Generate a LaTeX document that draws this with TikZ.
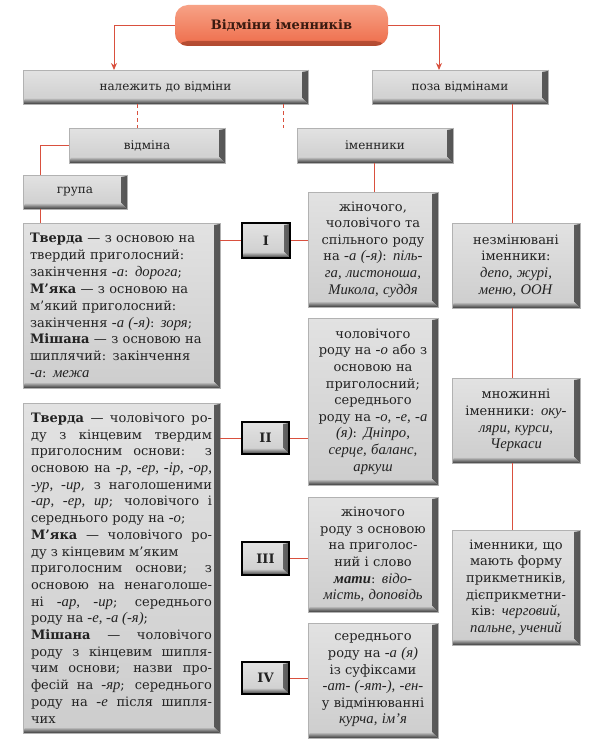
\documentclass[tikz,border=0pt]{standalone}
\usepackage{fontspec}
\setmainfont{DejaVu Serif}[ItalicFont={Liberation Serif Italic}, BoldItalicFont={Liberation Serif Bold Italic}, ItalicFeatures={Scale=1.13}, BoldItalicFeatures={Scale=1.13}]
\usetikzlibrary{arrows.meta}
\definecolor{boxtop}{HTML}{E2E2E2}
\definecolor{boxbot}{HTML}{CDCDCD}
\definecolor{boxdark}{HTML}{3A3A3A}
\definecolor{boxside}{HTML}{555555}
\definecolor{txt}{HTML}{222222}
\definecolor{lin}{HTML}{D9503E}
\definecolor{ttop}{HTML}{F7A286}
\definecolor{tbot}{HTML}{EE6C4A}
\definecolor{tdark}{HTML}{B04A30}
\definecolor{ttxt}{HTML}{3A1A10}
\tikzset{
  gbox/.style={top color=boxtop, bottom color=boxbot, draw=gray!60, line width=0.4pt,
    text=txt, align=center, inner xsep=6pt, inner ysep=3pt,
    font=\fontsize{13}{16.6}\selectfont,
    path picture={
      \shade[left color=boxbot, right color=boxside]
        ([xshift=-6pt,yshift=-2pt]path picture bounding box.north east) -- ([yshift=-1pt]path picture bounding box.north east)
        -- (path picture bounding box.south east) -- ([xshift=-6pt,yshift=6pt]path picture bounding box.south east) -- cycle;
      \shade[top color=boxbot, bottom color=boxdark]
        ([xshift=2pt,yshift=6pt]path picture bounding box.south west) -- ([xshift=-6pt,yshift=6pt]path picture bounding box.south east)
        -- (path picture bounding box.south east) -- (path picture bounding box.south west) -- cycle;
      \draw[white, line width=1pt] (path picture bounding box.south west) -- (path picture bounding box.north west) -- (path picture bounding box.north east);
    }},
  hbox/.style={font=\fontsize{12}{15}\selectfont},
  rbox/.style={gbox, draw=black, line width=2.4pt, font=\fontsize{13}{15}\bfseries\selectfont},
  tbox/.style={top color=ttop, bottom color=tbot, rounded corners=13pt, draw=none,
    text=ttxt, font=\fontsize{13}{15}\bfseries\selectfont,
    path picture={
      \shade[top color=tbot, bottom color=tdark]
        ([yshift=5pt]path picture bounding box.south west) rectangle (path picture bounding box.south east);
    }},
  conn/.style={draw=lin, line width=1pt},
  arr/.style={conn, -{Stealth[length=7pt,width=6pt]}},
  dsh/.style={conn, dash pattern=on 4pt off 3pt}
}
\newcommand{\bx}[8][]{%
  \pgfmathsetmacro\bxw{#5-#3}\pgfmathsetmacro\bxh{#6-#4}%
  \pgfmathsetmacro\bxcx{(#3+#5)/2}\pgfmathsetmacro\bxcy{(#4+#6)/2}%
  \pgfmathsetmacro\bxtw{#5-#3-2*#7}%
  \node[gbox,#1,inner xsep=#7 pt,minimum width=\bxw pt,minimum height=\bxh pt,text width=\bxtw pt] (#2) at (\bxcx,\bxcy) {#8};}
\begin{document}
\begin{tikzpicture}[x=1pt,y=-1pt]
\useasboundingbox (0,0) rectangle (602,751);
\fill[white] (0,0) rectangle (602,751);

\node[tbox, minimum width=213pt, minimum height=41pt] (title) at (281.5,25.5) {Відміни іменників};

\bx[hbox]{nal}{23}{70}{308}{104}{6}{належить до відміни}
\bx[hbox]{poza}{372}{70}{548}{104}{6}{поза відмінами}
\bx[hbox]{vidm}{69}{128}{225}{163}{6}{відміна}
\bx[hbox]{imen}{297}{128}{453}{163}{6}{іменники}
\bx[hbox]{grupa}{23}{175}{127}{209}{6}{група}

\bx[align=left, font=\fontsize{13}{16.9}\selectfont]{g1}{23}{223}{220}{388}{7}{%
\textbf{Тверда} — з основою на\\
твердий приголосний:\\
закінчення \textit{-а}: \textit{дорога};\\
\textbf{М’яка} — з основою на\\
м’який приголосний:\\
закінчення \textit{-а (-я)}: \textit{зоря};\\
\textbf{Мішана} — з основою на\\
шиплячий: закінчення\\
\textit{-а}: \textit{межа}}

\bx[align=justify, font=\fontsize{13}{16.7}\selectfont]{g2}{23}{403}{220}{733}{8}{%
\textbf{Тверда} — чоловічого ро-\linebreak
ду з кінцевим твердим\linebreak
приголосним основи: з\linebreak
основою на \textit{-р, -ер, -ір, -ор,}\linebreak
\textit{-ур, -ир}, з наголошеними\linebreak
\textit{-ар, -ер, ир}; чоловічого і\linebreak
середнього роду на \textit{-о};\\
\textbf{М’яка} — чоловічого ро-\linebreak
ду з кінцевим м’яким\\
приголосним основи; з\linebreak
основою на ненаголоше-\linebreak
ні \textit{-ар, -ир}; середнього\linebreak
роду на \textit{-е, -а (-я)};\\
\textbf{Мішана} — чоловічого\linebreak
роду з кінцевим шипля-\linebreak
чим основи; назви про-\linebreak
фесій на \textit{-яр}; середнього\linebreak
роду на \textit{-е} після шипля-\linebreak
чих}

\bx[rbox]{r1}{242}{223}{290}{258}{3}{I}
\bx[rbox]{r2}{242}{422}{289}{454}{3}{II}
\bx[rbox]{r3}{242}{542}{289}{575}{3}{III}
\bx[rbox]{r4}{242}{662}{289}{694}{3}{IV}

\bx{n1}{308}{192}{438}{307}{4}{%
жіночого,\\
чоловічого та\\
спільного роду\\
на \textit{-а (-я)}: \textit{піль-}\\
\textit{га, листоноша,}\\
\textit{Микола, суддя}}

\bx{n2}{308}{318}{438}{485}{4}{%
чоловічого\\
роду на \textit{-о} або з\\
основою на\\
приголосний;\\
середнього\\
роду на \textit{-о, -е, -а}\\
\textit{(я)}: \textit{Дніпро,}\\
\textit{серце, баланс,}\\
\textit{аркуш}}

\bx{n3}{308}{497}{438}{612}{4}{%
жіночого\\
роду з основою\\
на приголос-\\
ний і слово\\
\textbf{\textit{мати}}: \textit{відо-}\\
\textit{мість, доповідь}}

\bx{n4}{308}{623}{438}{738}{4}{%
середнього\\
роду на \textit{-а (я)}\\
із суфіксами\\
\textit{-ат- (-ят-), -ен-}\\
у відмінюванні\\
\textit{курча, ім’я}}

\bx{p1}{452}{223}{580}{308}{4}{%
незмінювані\\
іменники:\\
\textit{депо, журі,}\\
\textit{меню, ООН}}

\bx{p2}{452}{378}{580}{463}{4}{%
множинні\\
іменники: \textit{оку-}\\
\textit{ляри, курси,}\\
\textit{Черкаси}}

\bx{p3}{452}{530}{580}{645}{4}{%
іменники, що\\
мають форму\\
прикметників,\\
дієприкметни-\\
ків: \textit{черговий,}\\
\textit{пальне, учений}}

% connectors
\coordinate (a1) at (114,70);
\coordinate (a2) at (439,70);
\coordinate (d1) at (137,0);
\coordinate (d2) at (283,0);
\coordinate (c40) at (40,0);
\coordinate (c374) at (374,0);
\coordinate (c512) at (512,0);
\draw[arr] (title.west) -| (a1);
\draw[arr] (title.east) -| (a2);
\draw[dsh] (nal.south -| d1) -- (vidm.north -| d1);
\draw[dsh] (nal.south -| d2) -- (imen.north -| d2);
\draw[conn] (vidm.west) -| (grupa.north -| c40);
\draw[conn] (grupa.south -| c40) -- (g1.north -| c40);
\draw[conn] (imen.south -| c374) -- (n1.north -| c374);
\draw[conn] (g1.east |- r1.west) -- (r1.west);
\draw[conn] (r1.east) -- (n1.west |- r1.east);
\draw[conn] (g2.east |- r2.west) -- (r2.west);
\draw[conn] (r2.east) -- (n2.west |- r2.east);
\draw[conn] (r3.east) -- (n3.west |- r3.east);
\draw[conn] (r4.east) -- (n4.west |- r4.east);
\draw[conn] (poza.south -| c512) -- (p1.north -| c512);
\draw[conn] (p1.south -| c512) -- (p2.north -| c512);
\draw[conn] (p2.south -| c512) -- (p3.north -| c512);
\end{tikzpicture}
\end{document}
